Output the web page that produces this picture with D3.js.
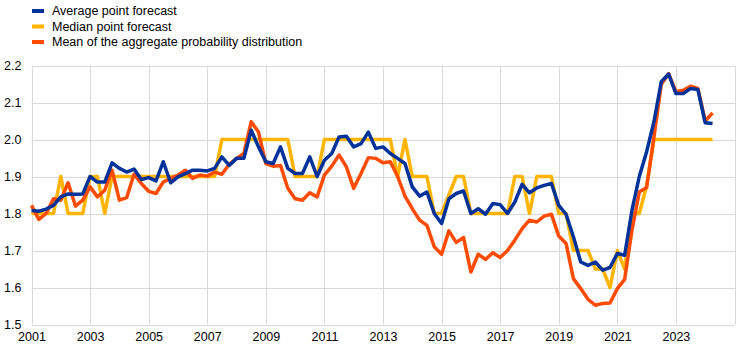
<!DOCTYPE html>
<html>
<head>
<meta charset="utf-8">
<script src="https://cdn.jsdelivr.net/npm/d3@7"></script>
<style>
	body { margin: 0; background: #fff; }
	svg { display: block; font-family: 'Liberation Sans', Arial, sans-serif; }
</style>
</head>
<body>
<div id="chart"></div>
<script>
// quarterly survey rounds, 2001Q1 .. 2024Q2
let firstYear = 2001
let quarters = []
for (let i = 0; i < 94; i++) {
	quarters.push(firstYear + Math.floor(i / 4) + 'Q' + ((i % 4) + 1))
}

let averageForecast = [
	1.808, 1.806, 1.812, 1.822, 1.845, 1.853, 1.852, 1.853,
	1.900, 1.885, 1.885, 1.937, 1.922, 1.912, 1.920, 1.892,
	1.897, 1.888, 1.940, 1.883, 1.899, 1.908, 1.917, 1.917,
	1.915, 1.922, 1.953, 1.930, 1.949, 1.949, 2.025, 1.980,
	1.940, 1.935, 1.980, 1.922, 1.908, 1.908, 1.953, 1.900,
	1.944, 1.962, 2.007, 2.009, 1.980, 1.989, 2.020, 1.976,
	1.980, 1.962, 1.949, 1.935, 1.872, 1.847, 1.858, 1.800,
	1.773, 1.840, 1.854, 1.861, 1.800, 1.813, 1.798, 1.827,
	1.824, 1.800, 1.831, 1.879, 1.856, 1.869, 1.876, 1.881,
	1.822, 1.798, 1.737, 1.669, 1.660, 1.669, 1.647, 1.654,
	1.692, 1.687, 1.809, 1.900, 1.967, 2.048, 2.156, 2.177,
	2.124, 2.124, 2.138, 2.135, 2.045, 2.043
]

let medianForecast = [
	1.80, 1.80, 1.80, 1.80, 1.90, 1.80, 1.80, 1.80,
	1.90, 1.90, 1.80, 1.90, 1.90, 1.90, 1.90, 1.90,
	1.90, 1.90, 1.90, 1.90, 1.90, 1.90, 1.90, 1.90,
	1.90, 1.90, 2.00, 2.00, 2.00, 2.00, 2.00, 2.00,
	2.00, 2.00, 2.00, 2.00, 1.90, 1.90, 1.90, 1.90,
	2.00, 2.00, 2.00, 2.00, 2.00, 2.00, 2.00, 2.00,
	2.00, 2.00, 1.90, 2.00, 1.90, 1.90, 1.90, 1.80,
	1.80, 1.85, 1.90, 1.90, 1.80, 1.80, 1.80, 1.80,
	1.80, 1.80, 1.90, 1.90, 1.80, 1.90, 1.90, 1.90,
	1.80, 1.80, 1.70, 1.70, 1.70, 1.65, 1.65, 1.60,
	1.70, 1.65, 1.80, 1.80, 1.875, 2.00, 2.00, 2.00,
	2.00, 2.00, 2.00, 2.00, 2.00, 2.00
]

let aggregateMean = [
	1.822, 1.784, 1.800, 1.840, 1.836, 1.883, 1.820, 1.836,
	1.872, 1.845, 1.863, 1.917, 1.836, 1.843, 1.906, 1.881,
	1.860, 1.854, 1.885, 1.895, 1.904, 1.917, 1.895, 1.904,
	1.901, 1.912, 1.906, 1.933, 1.949, 1.962, 2.048, 2.020,
	1.935, 1.928, 1.930, 1.868, 1.840, 1.836, 1.856, 1.845,
	1.904, 1.928, 1.958, 1.926, 1.868, 1.908, 1.951, 1.949,
	1.937, 1.940, 1.900, 1.847, 1.813, 1.782, 1.768, 1.710,
	1.690, 1.753, 1.722, 1.735, 1.642, 1.690, 1.676, 1.694,
	1.681, 1.700, 1.728, 1.759, 1.782, 1.777, 1.793, 1.798,
	1.739, 1.719, 1.624, 1.597, 1.568, 1.552, 1.557, 1.558,
	1.597, 1.622, 1.755, 1.858, 1.870, 2.007, 2.149, 2.178,
	2.129, 2.133, 2.144, 2.138, 2.050, 2.072
]

let seriesNames = [
	'Average point forecast',
	'Median point forecast',
	'Mean of the aggregate probability distribution'
]
let seriesColors = ['#003299', '#ffb400', '#ff4b00']

let yTicks = [1.5, 1.6, 1.7, 1.8, 1.9, 2.0, 2.1, 2.2]
let xTicks = [2001, 2003, 2005, 2007, 2009, 2011, 2013, 2015, 2017, 2019, 2021, 2023]

let W = 745
let H = 362
let gridColor = '#d9d9d9'
let lineWidth = 3.5

let svg = d3
	.select('#chart')
	.append('svg')
	.attr('width', W)
	.attr('height', H)

let x = d3.scaleLinear().domain([2001, 2025]).range([31.5, 734.5])
let y = d3.scaleLinear().domain([1.5, 2.2]).range([324.5, 65.5])

let qTime = q => +q.slice(0, 4) + (+q.slice(5) - 1) / 4

// gridlines
let grid = svg.append('g')
grid
	.selectAll('line.h')
	.data(yTicks)
	.join('line')
	.attr('class', 'h')
	.attr('x1', x(2001))
	.attr('x2', x(2025))
	.attr('y1', d => Math.round(y(d)) + 0.5)
	.attr('y2', d => Math.round(y(d)) + 0.5)
	.attr('stroke', gridColor)
	.attr('stroke-width', 1)

grid
	.selectAll('line.v')
	.data(xTicks.concat([2025]))
	.join('line')
	.attr('class', 'v')
	.attr('x1', d => Math.round(x(d)) + 0.5)
	.attr('x2', d => Math.round(x(d)) + 0.5)
	.attr('y1', y(2.2))
	.attr('y2', y(1.5))
	.attr('stroke', gridColor)
	.attr('stroke-width', 1)

// axis labels
let yAxis = svg
	.append('g')
	.attr('transform', `translate(${x(2001)},0)`)
	.call(d3.axisLeft(y).tickValues(yTicks).tickFormat(d3.format('.1f')).tickSize(0).tickPadding(10))
yAxis.select('.domain').remove()
yAxis.selectAll('text').attr('font-size', 12.5).attr('fill', '#000').attr('font-family', null)

let xAxis = svg
	.append('g')
	.attr('transform', `translate(0,${y(1.5)})`)
	.call(d3.axisBottom(x).tickValues(xTicks).tickFormat(d3.format('d')).tickSize(0).tickPadding(8))
xAxis.select('.domain').remove()
xAxis.selectAll('text').attr('font-size', 12.5).attr('fill', '#000').attr('font-family', null)

// lines: median first, then aggregate mean, average on top
let allSeries = [averageForecast, medianForecast, aggregateMean]
let line = d3
	.line()
	.x((d, i) => x(qTime(quarters[i])))
	.y(d => y(d))

;[1, 2, 0].forEach(k => {
	svg
		.append('path')
		.datum(allSeries[k])
		.attr('fill', 'none')
		.attr('stroke', seriesColors[k])
		.attr('stroke-width', lineWidth)
		.attr('stroke-linejoin', 'round')
		.attr('d', line)
})

// legend
let legendY = [11, 26.5, 42]
let legend = svg.append('g')
seriesNames.forEach((name, k) => {
	legend
		.append('rect')
		.attr('x', 32)
		.attr('y', legendY[k] - 2)
		.attr('width', 12)
		.attr('height', 4)
		.attr('fill', seriesColors[k])
	legend
		.append('text')
		.attr('x', 52)
		.attr('y', legendY[k])
		.attr('dy', '0.35em')
		.attr('font-size', 12.5)
		.attr('fill', '#000')
		.text(name)
})
</script>
</body>
</html>
